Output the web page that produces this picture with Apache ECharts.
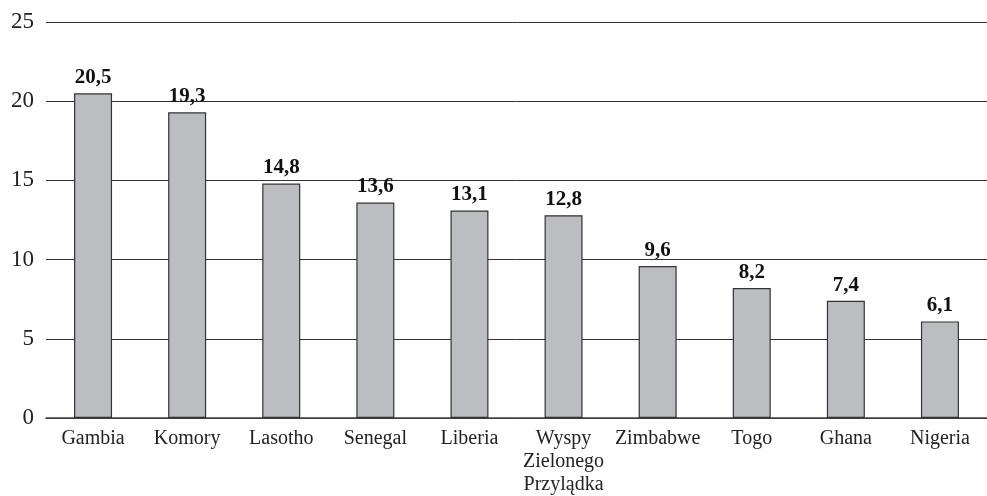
<!DOCTYPE html>
<html>
<head>
<meta charset="utf-8">
<script src="https://cdn.jsdelivr.net/npm/echarts@6/dist/echarts.min.js"></script>
<style>
  html, body { margin: 0; padding: 0; background: #fff; }
  #chart { width: 987px; height: 496px; }
</style>
</head>
<body>
<div id="chart"></div>
<script>
const categories = ["Gambia", "Komory", "Lasotho", "Senegal", "Liberia", "Wyspy\nZielonego\nPrzylądka", "Zimbabwe", "Togo", "Ghana", "Nigeria"];
const values = [20.5, 19.3, 14.8, 13.6, 13.1, 12.8, 9.6, 8.2, 7.4, 6.1];

const chart = echarts.init(document.getElementById("chart"));
const fontFamily = "'Liberation Serif', 'Times New Roman', serif";

chart.setOption({
    animation: false,
    // plot area runs a little past the right edge of the picture, as in the original
    grid: { left: 46, width: 948, top: 22, bottom: 75, containLabel: false },
    xAxis: {
        type: "category",
        data: categories,
        axisLine: { show: true, lineStyle: { color: "#444", width: 1.5 } },
        axisTick: { show: false },
        axisLabel: {
            color: "#222", fontFamily: fontFamily, fontSize: 20,
            lineHeight: 23, margin: 9, interval: 0
        }
    },
    yAxis: {
        type: "value",
        min: 0, max: 25, interval: 5,
        axisLine: { show: false },
        axisTick: { show: false },
        axisLabel: { color: "#222", fontFamily: fontFamily, fontSize: 23, margin: 12 },
        splitLine: { lineStyle: { color: "#333", width: 1 } }
    },
    series: [{
        type: "bar",
        data: values,
        barWidth: 38,
        itemStyle: { color: "#bcbdc1", borderColor: "#333", borderWidth: 1.2 },
        label: {
            show: true, position: "top", distance: 5,
            color: "#111", fontFamily: fontFamily, fontWeight: "bold", fontSize: 21,
            formatter: p => String(p.value).replace(".", ",")
        }
    }]
});
</script>
</body>
</html>
